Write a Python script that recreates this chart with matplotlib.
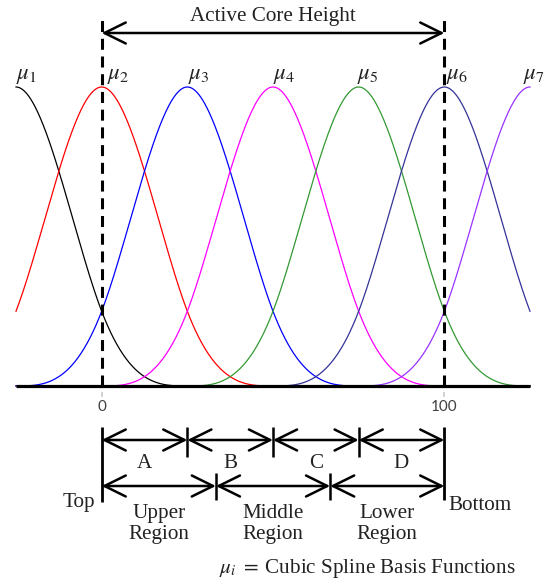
import numpy as np
import matplotlib
matplotlib.use("Agg")
import matplotlib.pyplot as plt

plt.rcParams['mathtext.fontset'] = 'stix'

# ---- data ----
centers = [-25, 0, 25, 50, 75, 100, 125]
labels = [r'$\mu_1$', r'$\mu_2$', r'$\mu_3$', r'$\mu_4$', r'$\mu_5$', r'$\mu_6$', r'$\mu_7$']
colors = ['#000000', '#FF0000', '#0000FF', '#FF00FF', '#339933', '#333399', '#9933FF']
knot_spacing = 25
x_range = [-25, 125]
tick_vals = [0, 100]
tick_labels = ['0', '100']
zone_bounds = [0, 25, 50, 75, 100]
zone_names = ['A', 'B', 'C', 'D']
region_bounds = [0, 100 / 3, 200 / 3, 100]
region_names = ['Upper\nRegion', 'Middle\nRegion', 'Lower\nRegion']


def basis(x, c, h):
    t = np.abs(x - c) / h
    y = np.zeros_like(t)
    m1 = t < 1
    m2 = (t >= 1) & (t < 2)
    y[m1] = 1 - 1.5 * t[m1] ** 2 + 0.75 * t[m1] ** 3
    y[m2] = (2 - t[m2]) ** 3 / 4
    return y


fig = plt.figure(figsize=(5.46, 5.84), dpi=100)
ax = fig.add_axes([0, 0, 1, 1])
ax.axis('off')


def X(px):
    return -25 + (px - 16) * 150 / 514


def Y(py):
    return (386 - py) / 299


ax.set_xlim(X(0), X(546))
ax.set_ylim(Y(584), Y(0))

SERIF = ['Liberation Serif', 'DejaVu Serif']
FS = 15.2
TXT = '#222222'

xs = np.linspace(x_range[0], x_range[1], 1501)
for c, col in zip(centers, colors):
    ax.plot(xs, basis(xs, c, knot_spacing), color=col, lw=0.9, zorder=2)

# baseline
ax.plot(x_range, [0, 0], color='k', lw=2.3, solid_capstyle='butt', zorder=3)

# dashed verticals
for xv in tick_vals:
    ax.plot([xv, xv], [0, Y(16)], color='k', lw=2.2, dashes=(3.6, 2.2), zorder=4)

# mu labels
mu_offsets_px = [0, 5, 1, 0, -2, 2, -7]
for c, lab, off in zip(centers, labels, mu_offsets_px):
    ax.text(c + off * 150 / 514, Y(74), lab, ha='left', va='center', fontsize=16.5,
            color=TXT)

# Active core height arrow
arrow_kw = dict(arrowstyle='<->,head_length=0.85,head_width=0.42', lw=1.8, color='k',
                mutation_scale=18, shrinkA=0, shrinkB=0)
ax.annotate('', xy=(0, Y(33)), xytext=(100, Y(33)), arrowprops=arrow_kw)
ax.text(50, Y(17), 'Active Core Height', ha='center', va='center', fontsize=FS,
        family=SERIF, color=TXT)

# tick labels
for tv, tl in zip(tick_vals, tick_labels):
    ax.plot([tv, tv], [Y(393), Y(396)], color='#c8c8c8', lw=1.2)
    ax.text(tv, Y(407), tl, ha='center', va='center', fontsize=11,
            family=['Lato', 'DejaVu Sans'], color='#404040')

# bracket verticals
ax.plot([0, 0], [Y(427), Y(502)], color='k', lw=2.0, solid_capstyle='butt')
ax.plot([100, 100], [Y(427), Y(500)], color='k', lw=2.0, solid_capstyle='butt')

# zone row
for i in range(len(zone_names)):
    a, b = zone_bounds[i], zone_bounds[i + 1]
    ax.annotate('', xy=(a, Y(440)), xytext=(b, Y(440)), arrowprops=arrow_kw)
    ax.text((a + b) / 2, Y(463), zone_names[i], ha='center', va='center',
            fontsize=FS, family=SERIF, color=TXT)
for b in zone_bounds[1:-1]:
    ax.plot([b, b], [Y(427), Y(457)], color='k', lw=1.8, solid_capstyle='butt')

# region row
for i in range(len(region_names)):
    a, b = region_bounds[i], region_bounds[i + 1]
    ax.annotate('', xy=(a, Y(486)), xytext=(b, Y(486)), arrowprops=arrow_kw)
    ax.text((a + b) / 2, Y(524), region_names[i], ha='center', va='center',
            fontsize=FS, family=SERIF, color=TXT, linespacing=1.15)
for b in region_bounds[1:-1]:
    ax.plot([b, b], [Y(473), Y(500)], color='k', lw=1.8, solid_capstyle='butt')

ax.text(X(95), Y(503), 'Top', ha='right', va='center', fontsize=FS, family=SERIF,
        color=TXT)
ax.text(X(448), Y(506), 'Bottom', ha='left', va='center', fontsize=FS, family=SERIF,
        color=TXT)

ax.text(X(367), Y(569), r'$\mu_i\;=\;$Cubic Spline Basis Functions', ha='center',
        va='center', fontsize=FS, family=SERIF, color=TXT)

fig.savefig('out.png', dpi=100)
